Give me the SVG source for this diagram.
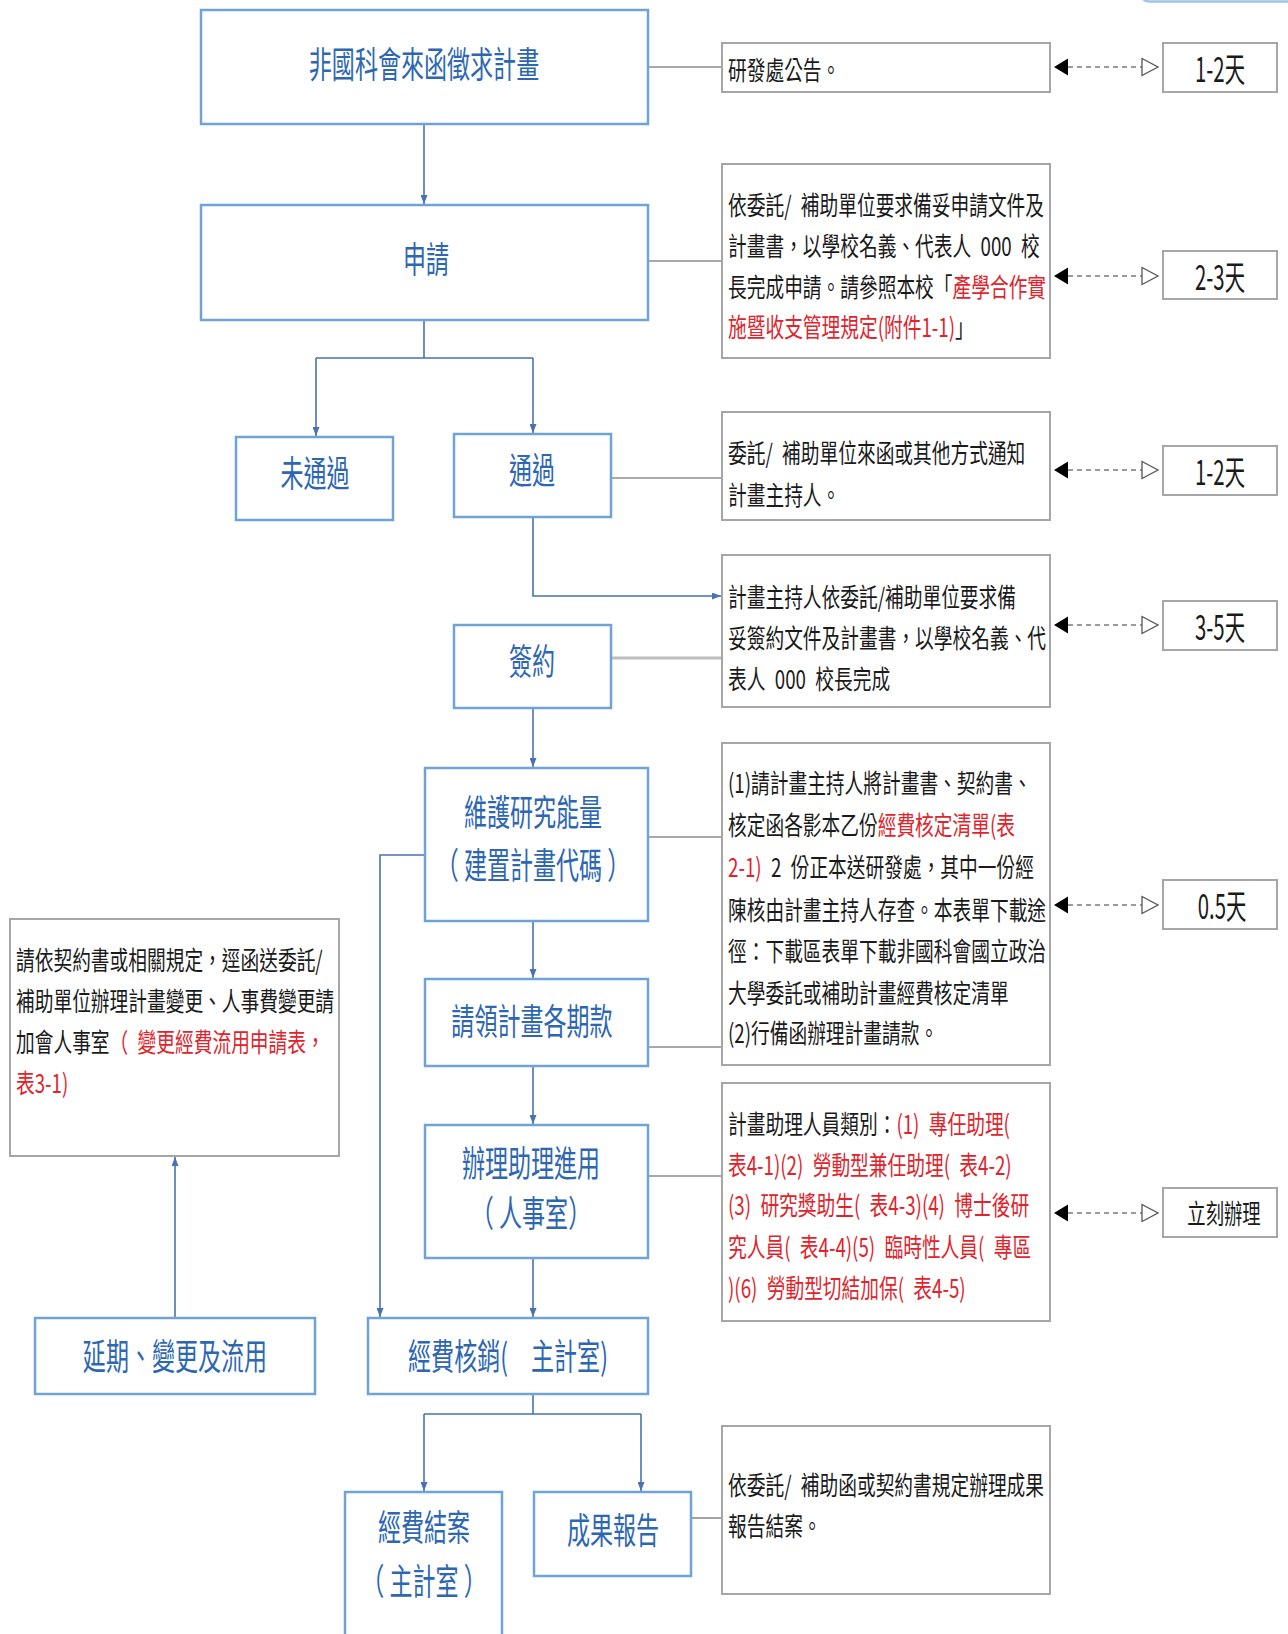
<svg xmlns="http://www.w3.org/2000/svg" xmlns:xlink="http://www.w3.org/1999/xlink" width="1288" height="1634" viewBox="0 0 1288 1634">
<style>
  .bn{fill:#fff;stroke:#6FA3D6;stroke-width:2.5}
  .gb{fill:#fff;stroke:#A6A6A6;stroke-width:2}
  .tt{font-family:"Noto Sans CJK TC","Noto Sans CJK SC",sans-serif;font-size:36px;fill:#2E67B1;text-anchor:middle}
  .bt{font-family:"Noto Sans CJK TC","Noto Sans CJK SC",sans-serif;font-size:26px;fill:#1a1a1a}
  .dt{font-family:"Noto Sans CJK TC","Noto Sans CJK SC",sans-serif;font-size:34px;fill:#1a1a1a;text-anchor:middle}
  .r{fill:#E0242C}
  .cb{fill:none;stroke:#4A72B0;stroke-width:1.6}
  .cg{fill:none;stroke:#8C8C8C;stroke-width:1.6}
</style>
<defs>
  <marker id="ah" viewBox="0 0 9 7" refX="9" refY="3.5" markerWidth="9" markerHeight="7" markerUnits="userSpaceOnUse" orient="auto">
    <path d="M0,0 L9,3.5 L0,7 z" fill="#4A72B0"/>
  </marker>
  <g id="dash">
    <polygon points="1054,0 1068,-8.5 1068,8.5" fill="#000"/>
    <line x1="1068" y1="0" x2="1142" y2="0" stroke="#7A7A7A" stroke-width="1.5" stroke-dasharray="5 4"/>
    <polygon points="1142,-8.5 1158,0 1142,8.5" fill="#fff" stroke="#555" stroke-width="1.3"/>
  </g>
</defs>
<rect width="1288" height="1634" fill="#fff"/>
<path d="M1142,-6 Q1142,1.5 1150,1.5 L1290,1.5" fill="none" stroke="#9DC3E6" stroke-width="2.5"/>

<g id="connectors">
  <path class="cb" d="M424,124 V204" marker-end="url(#ah)"/>
  <path class="cb" d="M424,320 V358 M316,358 H533"/>
  <path class="cb" d="M316,358 V436" marker-end="url(#ah)"/>
  <path class="cb" d="M533,358 V433" marker-end="url(#ah)"/>
  <path class="cb" d="M533,517 V596 H721" marker-end="url(#ah)"/>
  <path class="cb" d="M533,708 V767" marker-end="url(#ah)"/>
  <path class="cb" d="M533,921 V978" marker-end="url(#ah)"/>
  <path class="cb" d="M533,1066 V1124" marker-end="url(#ah)"/>
  <path class="cb" d="M533,1258 V1317" marker-end="url(#ah)"/>
  <path class="cb" d="M425,855 H380 V1317" marker-end="url(#ah)"/>
  <path class="cb" d="M175,1318 V1157" marker-end="url(#ah)"/>
  <path class="cb" d="M533,1394 V1414 M424,1414 H641"/>
  <path class="cb" d="M424,1414 V1491" marker-end="url(#ah)"/>
  <path class="cb" d="M641,1414 V1491" marker-end="url(#ah)"/>
  <path class="cg" d="M648,67 H722"/>
  <path class="cg" d="M648,261 H722"/>
  <path class="cg" d="M611,478 H722"/>
  <path d="M611,658 H722" fill="none" stroke="#BDBDBD" stroke-width="3"/>
  <path class="cg" d="M648,837 H722"/>
  <path class="cg" d="M648,1047 H722"/>
  <path class="cg" d="M648,1176 H722"/>
  <path class="cg" d="M691,1518 H722"/>
  <use xlink:href="#dash" y="67"/>
  <use xlink:href="#dash" y="276"/>
  <use xlink:href="#dash" y="470"/>
  <use xlink:href="#dash" y="625"/>
  <use xlink:href="#dash" y="905"/>
  <use xlink:href="#dash" y="1213"/>
</g>

<g id="n-call">
  <rect class="bn" x="201" y="10" width="447" height="114"/>
  <g transform="translate(424 0) scale(0.64 1)"><text class="tt" x="0" y="78">非國科會來函徵求計畫</text></g>
</g>
<g id="n-apply">
  <rect class="bn" x="201" y="205" width="447" height="115"/>
  <g transform="translate(426 0) scale(0.64 1)"><text class="tt" x="0" y="273">申請</text></g>
</g>
<g id="n-fail">
  <rect class="bn" x="236" y="437" width="157" height="83"/>
  <g transform="translate(315 0) scale(0.64 1)"><text class="tt" x="0" y="487">未通過</text></g>
</g>
<g id="n-pass">
  <rect class="bn" x="454" y="434" width="157" height="83"/>
  <g transform="translate(532 0) scale(0.64 1)"><text class="tt" x="0" y="484">通過</text></g>
</g>
<g id="n-sign">
  <rect class="bn" x="454" y="625" width="157" height="83"/>
  <g transform="translate(532 0) scale(0.64 1)"><text class="tt" x="0" y="675">簽約</text></g>
</g>
<g id="n-maintain">
  <rect class="bn" x="425" y="768" width="223" height="153"/>
  <g transform="translate(533 0) scale(0.64 1)">
    <text class="tt" x="0" y="826">維護研究能量</text>
    <text class="tt" x="0" y="879">（ 建置計畫代碼 ）</text>
  </g>
</g>
<g id="n-claim">
  <rect class="bn" x="425" y="979" width="223" height="87"/>
  <g transform="translate(532 0) scale(0.64 1)"><text class="tt" x="0" y="1035">請領計畫各期款</text></g>
</g>
<g id="n-assistant">
  <rect class="bn" x="425" y="1125" width="223" height="133"/>
  <g transform="translate(531 0) scale(0.64 1)">
    <text class="tt" x="0" y="1177">辦理助理進用</text>
    <text class="tt" x="0" y="1227">（ 人事室）</text>
  </g>
</g>
<g id="n-extend">
  <rect class="bn" x="35" y="1318" width="280" height="76"/>
  <g transform="translate(175 0) scale(0.64 1)"><text class="tt" x="0" y="1370">延期、變更及流用</text></g>
</g>
<g id="n-verify">
  <rect class="bn" x="368" y="1318" width="280" height="76"/>
  <g transform="translate(508 0) scale(0.64 1)"><text class="tt" x="0" y="1370">經費核銷(&#8195;主計室)</text></g>
</g>
<g id="n-close">
  <rect class="bn" x="345" y="1492" width="157" height="170"/>
  <g transform="translate(424 0) scale(0.64 1)">
    <text class="tt" x="0" y="1541">經費結案</text>
    <text class="tt" x="0" y="1595">（ 主計室 ）</text>
  </g>
</g>
<g id="n-report">
  <rect class="bn" x="534" y="1492" width="157" height="84"/>
  <g transform="translate(613 0) scale(0.64 1)"><text class="tt" x="0" y="1544">成果報告</text></g>
</g>

<g id="d-announce">
  <rect class="gb" x="722" y="43" width="328" height="49"/>
  <g transform="translate(728 0) scale(0.72 1)"><text class="bt" x="0" y="80">研發處公告。</text></g>
</g>
<g id="d-apply">
  <rect class="gb" x="722" y="164" width="328" height="194"/>
  <g transform="translate(728 0) scale(0.72 1)">
    <text class="bt" x="0" y="215">依委託/&#8194;補助單位要求備妥申請文件及</text>
    <text class="bt" x="0" y="256">計畫書，以學校名義、代表人&#8194;000&#8194;校</text>
    <text class="bt" x="0" y="297">長完成申請。請參照本校「<tspan class="r">產學合作實</tspan></text>
    <text class="bt" x="0" y="337"><tspan class="r">施暨收支管理規定(附件1-1)</tspan>」</text>
  </g>
</g>
<g id="d-notify">
  <rect class="gb" x="722" y="412" width="328" height="108"/>
  <g transform="translate(728 0) scale(0.72 1)">
    <text class="bt" x="0" y="463">委託/&#8194;補助單位來函或其他方式通知</text>
    <text class="bt" x="0" y="505">計畫主持人。</text>
  </g>
</g>
<g id="d-sign">
  <rect class="gb" x="722" y="555" width="328" height="152"/>
  <g transform="translate(728 0) scale(0.72 1)">
    <text class="bt" x="0" y="607">計畫主持人依委託/補助單位要求備</text>
    <text class="bt" x="0" y="648">妥簽約文件及計畫書，以學校名義、代</text>
    <text class="bt" x="0" y="689">表人&#8194;000&#8194;校長完成</text>
  </g>
</g>
<g id="d-maintain">
  <rect class="gb" x="722" y="743" width="328" height="322"/>
  <g transform="translate(728 0) scale(0.72 1)">
    <text class="bt" x="0" y="793">(1)請計畫主持人將計畫書、契約書、</text>
    <text class="bt" x="0" y="835">核定函各影本乙份<tspan class="r">經費核定清單(表</tspan></text>
    <text class="bt" x="0" y="877"><tspan class="r">2-1)</tspan>&#8194;2&#8194;份正本送研發處，其中一份經</text>
    <text class="bt" x="0" y="920">陳核由計畫主持人存查。本表單下載途</text>
    <text class="bt" x="0" y="961">徑：下載區表單下載非國科會國立政治</text>
    <text class="bt" x="0" y="1003">大學委託或補助計畫經費核定清單</text>
    <text class="bt" x="0" y="1043">(2)行備函辦理計畫請款。</text>
  </g>
</g>
<g id="d-assistant">
  <rect class="gb" x="722" y="1083" width="328" height="238"/>
  <g transform="translate(728 0) scale(0.72 1)">
    <text class="bt" x="0" y="1134">計畫助理人員類別：<tspan class="r">(1)&#8194;專任助理(</tspan></text>
    <text class="bt r" x="0" y="1175">表4-1)(2)&#8194;勞動型兼任助理(&#8194;表4-2)</text>
    <text class="bt r" x="0" y="1215">(3)&#8194;研究獎助生(&#8194;表4-3)(4)&#8194;博士後研</text>
    <text class="bt r" x="0" y="1257">究人員(&#8194;表4-4)(5)&#8194;臨時性人員(&#8194;專區</text>
    <text class="bt r" x="0" y="1298">)(6)&#8194;勞動型切結加保(&#8194;表4-5)</text>
  </g>
</g>
<g id="d-report">
  <rect class="gb" x="722" y="1426" width="328" height="168"/>
  <g transform="translate(728 0) scale(0.72 1)">
    <text class="bt" x="0" y="1495">依委託/&#8194;補助函或契約書規定辦理成果</text>
    <text class="bt" x="0" y="1536">報告結案。</text>
  </g>
</g>
<g id="d-change">
  <rect class="gb" x="10" y="919" width="329" height="237"/>
  <g transform="translate(16 0) scale(0.72 1)">
    <text class="bt" x="0" y="970">請依契約書或相關規定，逕函送委託/</text>
    <text class="bt" x="0" y="1011">補助單位辦理計畫變更、人事費變更請</text>
    <text class="bt" x="0" y="1052">加會人事室<tspan class="r">（&#8194;變更經費流用申請表，</tspan></text>
    <text class="bt r" x="0" y="1093">表3-1)</text>
  </g>
</g>

<g id="t1">
  <rect class="gb" x="1163" y="43" width="114" height="49"/>
  <g transform="translate(1220 0) scale(0.6 1)"><text class="dt" x="0" y="82">1-2天</text></g>
</g>
<g id="t2">
  <rect class="gb" x="1163" y="251" width="114" height="48"/>
  <g transform="translate(1220 0) scale(0.6 1)"><text class="dt" x="0" y="290">2-3天</text></g>
</g>
<g id="t3">
  <rect class="gb" x="1163" y="446" width="114" height="49"/>
  <g transform="translate(1220 0) scale(0.6 1)"><text class="dt" x="0" y="485">1-2天</text></g>
</g>
<g id="t4">
  <rect class="gb" x="1163" y="601" width="114" height="49"/>
  <g transform="translate(1220 0) scale(0.6 1)"><text class="dt" x="0" y="640">3-5天</text></g>
</g>
<g id="t5">
  <rect class="gb" x="1163" y="880" width="114" height="49"/>
  <g transform="translate(1222 0) scale(0.6 1)"><text class="dt" x="0" y="919">0.5天</text></g>
</g>
<g id="t6">
  <rect class="gb" x="1163" y="1188" width="114" height="49"/>
  <g transform="translate(1224 0) scale(0.68 1)"><text class="dt" x="0" y="1224" style="font-size:27px">立刻辦理</text></g>
</g>
</svg>
